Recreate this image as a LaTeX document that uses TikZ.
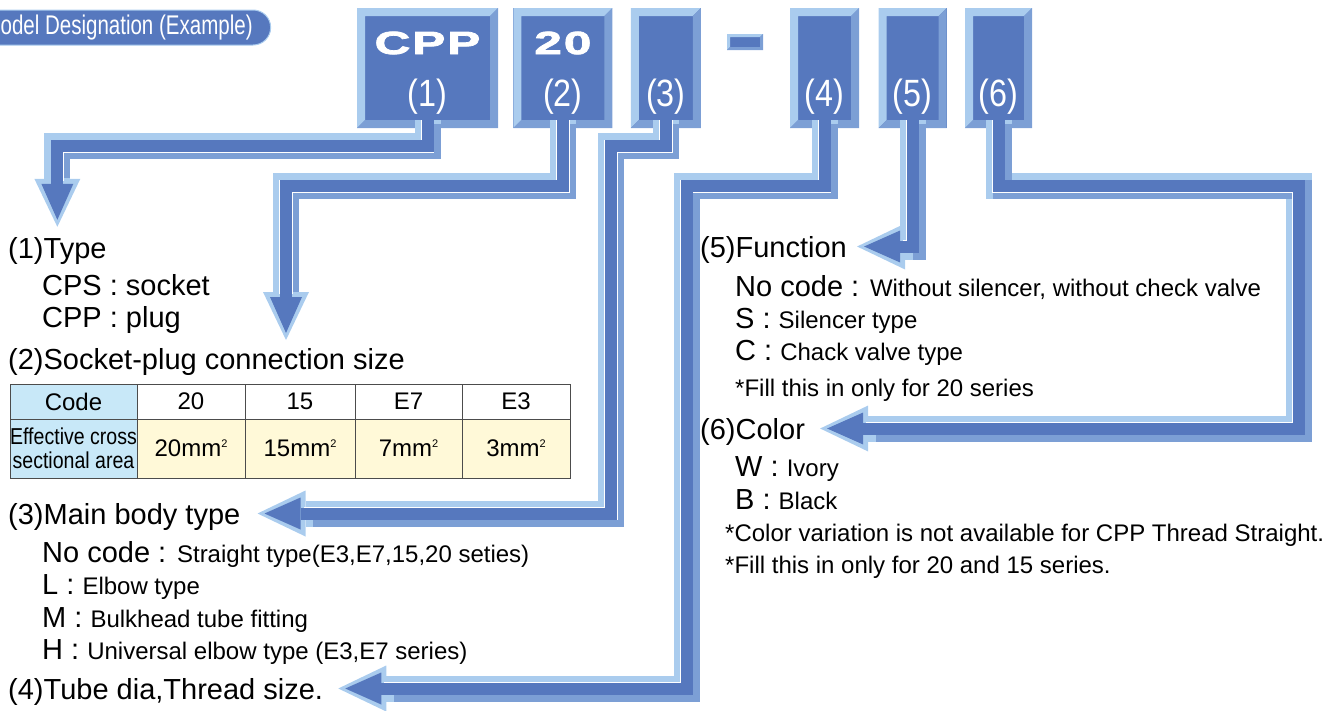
\documentclass[tikz,border=0pt]{standalone}
\usepackage{fontspec}
\setmainfont{Liberation Sans}
\newfontfamily\narrowfont[FakeStretch=0.85]{Liberation Sans}
\newfontfamily\condfont[FakeStretch=0.76]{Liberation Sans}
\newfontfamily\widefont[FakeStretch=1.55,LetterSpace=6,FakeBold=2.5]{Liberation Sans}
\usepackage{xcolor}
\usetikzlibrary{positioning,arrows.meta}

\definecolor{pipedark}{HTML}{5678BE}
\definecolor{pipelight}{HTML}{AACCEE}
\definecolor{pipemid}{HTML}{7C9FD5}
\definecolor{headblue}{HTML}{C8E8F8}
\definecolor{cellyellow}{HTML}{FFF9D8}

\begin{document}
\begin{tikzpicture}[
    x=1pt, y=-1pt,
    keybox/.style={rectangle, fill=pipedark, inner sep=0pt, minimum height=120pt,
        path picture={
            \fill[pipelight] (path picture bounding box.south west) -- (path picture bounding box.north west)
                -- (path picture bounding box.north east) -- ++(-#1,-#1)
                -| ([shift={(#1,#1)}]path picture bounding box.south west) -- cycle;
            \fill[pipemid] (path picture bounding box.south west) -- (path picture bounding box.south east)
                -- (path picture bounding box.north east) -- ++(-#1,-#1)
                |- ([shift={(#1,#1)}]path picture bounding box.south west) -- cycle;
        }},
    keybox/.default=8pt,
    boxcode/.style={text=white, inner sep=0pt, font=\widefont\bfseries\fontsize{32}{36}\selectfont},
    boxnum/.style={text=white, inner sep=0pt, font=\narrowfont\fontsize{38}{42}\selectfont},
    titlebar/.style={rectangle, rounded corners=17.5pt, fill=pipedark, draw=pipelight, line width=1pt,
        text=white, font=\condfont\fontsize{27}{30}\selectfont, minimum height=35pt, inner xsep=18pt, inner ysep=0pt},
    heading/.style={inner sep=0pt, anchor=base west, font=\fontsize{29}{34}\selectfont},
    note/.style={inner sep=0pt, anchor=base west, font=\fontsize{24}{28}\selectfont},
    tabcell/.style={rectangle, draw=black!70, line width=0.8pt, inner sep=0pt, outer sep=0pt,
        align=center, font=\fontsize{24}{28}\selectfont},
    pipe/.style={draw=pipelight, line width=26pt, line join=miter,
        -{Triangle[width=46pt,length=48pt,line width=0pt]},
        postaction={draw=pipemid, line width=19pt, -, shorten >=52pt, transform canvas={shift={(3.5pt,-3.5pt)}}},
        postaction={draw=white, line width=13.4pt, -, shorten >=46pt},
        postaction={draw=pipedark, line width=12pt, shorten >=7pt, -{Triangle[width=32pt,length=36pt,line width=0pt]}}}
]
\path[use as bounding box, clip] (0,0) rectangle (1336,710);

% Title
\node[titlebar, anchor=west] (title) at (-35,27.5) {Model Designation (Example)};

% Code boxes
\node[keybox, minimum width=141pt] (box1) at (427.5,68) {};
\node[keybox, minimum width=99pt, right=15pt of box1] (box2) {};
\node[keybox, minimum width=70pt, right=18pt of box2] (box3) {};
\node[keybox=3pt, minimum width=36pt, minimum height=16pt] (dash) at (745,42) {};
\node[keybox, minimum width=69pt, right=89pt of box3] (box4) {};
\node[keybox, minimum width=68pt, right=19pt of box4] (box5) {};
\node[keybox, minimum width=67pt, right=18pt of box5] (box6) {};

\node[boxcode] (code1) at ([yshift=25pt]box1.center) {CPP};
\node[boxcode] (code2) at ([yshift=25pt]box2.center) {20};
\node[boxnum] (num1) at ([yshift=-29pt]box1.center) {(1)};
\node[boxnum] (num2) at ([yshift=-29pt]box2.center) {(2)};
\node[boxnum] (num3) at ([yshift=-29pt]box3.center) {(3)};
\node[boxnum] (num4) at ([yshift=-29pt]box4.center) {(4)};
\node[boxnum] (num5) at ([yshift=-29pt]box5.center) {(5)};
\node[boxnum] (num6) at ([yshift=-29pt]box6.center) {(6)};

% (1) Type
\node[heading] (type1) at (8,258) {(1)Type};
\node[heading] (cps1) at (42,295) {CPS : socket};
\node[heading] (cpp1) at (42,327) {CPP : plug};

% (2) Size and table
\node[heading] (size2) at (8,369) {(2)Socket-plug connection size};
\coordinate (tip2) at (286,340);

\node[tabcell, fill=headblue, minimum width=127pt, minimum height=35pt, anchor=north west] (code) at (10,384) {Code};
\node[tabcell, fill=white, minimum width=108pt, minimum height=35pt, right=0pt of code] (h20) {20};
\node[tabcell, fill=white, minimum width=110pt, minimum height=35pt, right=0pt of h20] (h15) {15};
\node[tabcell, fill=white, minimum width=107pt, minimum height=35pt, right=0pt of h15] (hE7) {E7};
\node[tabcell, fill=white, minimum width=108pt, minimum height=35pt, right=0pt of hE7] (hE3) {E3};
\node[tabcell, fill=headblue, minimum width=127pt, minimum height=59pt, below=0pt of code,
    font=\narrowfont\fontsize{23}{24}\selectfont] (area) {Effective cross\\sectional area};
\node[tabcell, fill=cellyellow, minimum width=108pt, minimum height=59pt, right=0pt of area] (a20) {20mm\raisebox{9pt}{\fontsize{11}{11}\selectfont 2}};
\node[tabcell, fill=cellyellow, minimum width=110pt, minimum height=59pt, right=0pt of a20] (a15) {15mm\raisebox{9pt}{\fontsize{11}{11}\selectfont 2}};
\node[tabcell, fill=cellyellow, minimum width=107pt, minimum height=59pt, right=0pt of a15] (aE7) {7mm\raisebox{9pt}{\fontsize{11}{11}\selectfont 2}};
\node[tabcell, fill=cellyellow, minimum width=108pt, minimum height=59pt, right=0pt of aE7] (aE3) {3mm\raisebox{9pt}{\fontsize{11}{11}\selectfont 2}};

% (3) Main body type
\node[heading] (body3) at (8,524) {(3)Main body type};
\node[heading] (nocode3) at (42,562) {No code : {\fontsize{24}{28}\selectfont Straight type(E3,E7,15,20 seties)}};
\node[heading] (l3) at (42,594) {L : {\fontsize{24}{28}\selectfont Elbow type}};
\node[heading] (m3) at (42,627) {M : {\fontsize{24}{28}\selectfont Bulkhead tube fitting}};
\node[heading] (h3) at (42,659) {H : {\fontsize{24}{28}\selectfont Universal elbow type (E3,E7 series)}};

% (4) Tube
\node[heading] (tube4) at (8,699) {(4)Tube dia,Thread size.};

% (5) Function
\node[heading] (func5) at (700,257) {(5)Function};
\node[heading] (nocode5) at (735,296) {No code : {\fontsize{24}{28}\selectfont Without silencer, without check valve}};
\node[heading] (s5) at (735,328) {S : {\fontsize{24}{28}\selectfont Silencer type}};
\node[heading] (c5) at (735,360) {C : {\fontsize{24}{28}\selectfont Chack valve type}};
\node[note] (fill5) at (735,396) {*Fill this in only for 20 series};

% (6) Color
\node[heading] (color6) at (700,439) {(6)Color};
\node[heading] (w6) at (735,476) {W : {\fontsize{24}{28}\selectfont Ivory}};
\node[heading] (b6) at (735,509) {B : {\fontsize{24}{28}\selectfont Black}};
\node[note] (notea6) at (725,541) {*Color variation is not available for CPP Thread Straight.};
\node[note] (noteb6) at (725,573) {*Fill this in only for 20 and 15 series.};

% Pipes
\draw[pipe] ([yshift=8pt]box1.south) -- ++(0,26) -| ([yshift=10pt]type1.north);
\draw[pipe] ([yshift=8pt]box2.south) -- ++(0,66) -| (tip2);
\draw[pipe] ([yshift=8pt]box3.south) -- ++(0,26) -- ++(-55,0) |- ([xshift=17pt,yshift=3pt]body3.east);
\draw[pipe] ([yshift=8pt]box4.south) -- ++(0,66) -- ++(-138,0) |- ([xshift=15pt,yshift=3pt]tube4.east);
\draw[pipe] ([yshift=8pt]box5.south) |- ([xshift=10pt,yshift=3pt]func5.east);
\draw[pipe] ([yshift=8pt]box6.south) -- ++(0,66) -- ++(300,0) |- ([xshift=15pt,yshift=3pt]color6.east);

\end{tikzpicture}
\end{document}
